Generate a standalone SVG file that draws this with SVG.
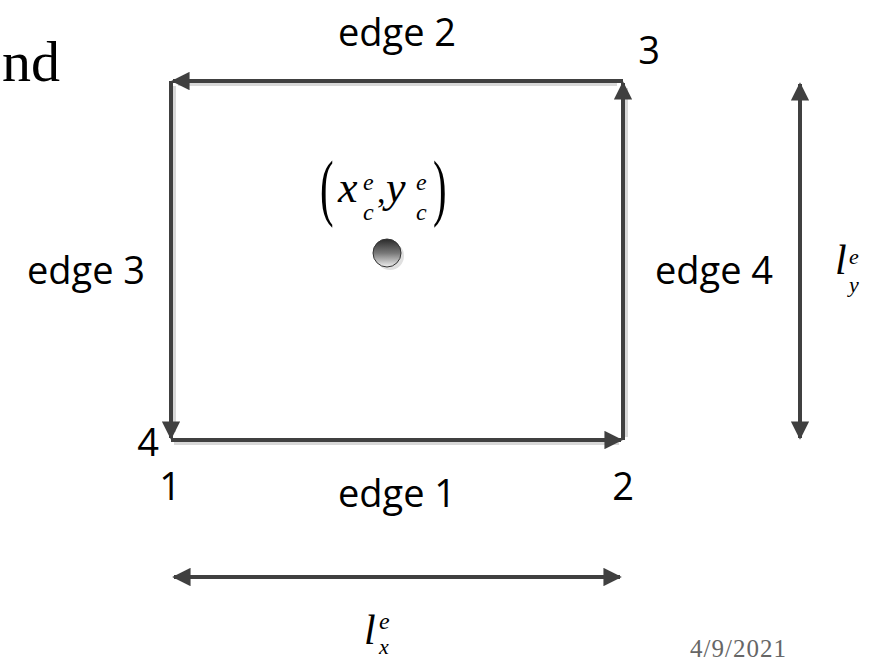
<svg xmlns="http://www.w3.org/2000/svg" width="879" height="661" viewBox="0 0 879 661">
<style>
.ln{stroke:#404040;stroke-width:4;fill:none}
.sh{stroke:#d8d8d8;stroke-width:4;fill:none}
.lbl{font-family:"Open Sans","Liberation Sans",sans-serif;font-size:38px;fill:#000}
.m{font-family:"Liberation Serif",serif;font-style:italic;fill:#000}
.p{font-family:"Liberation Serif",serif;font-size:74px;fill:#000}
</style>
<defs>
<marker id="ah" viewBox="0 0 10 10" refX="9" refY="5" markerWidth="4.6" markerHeight="4.6" orient="auto-start-reverse" markerUnits="strokeWidth">
<path d="M0,0 L10,5 L0,10 Z" fill="#404040"/>
</marker>
<linearGradient id="g" x1="0" y1="0" x2="0" y2="1">
<stop offset="0" stop-color="#2a2a2a"/>
<stop offset="0.5" stop-color="#777"/>
<stop offset="1" stop-color="#f0f0f0"/>
</linearGradient>
</defs>
<rect width="879" height="661" fill="#fff"/>
<text x="2" y="81" font-family="Liberation Serif,serif" font-size="58">nd</text>
<g id="connectors">
<path class="sh" d="M174,443 H619 M626,437 V88 M617,84 H178 M174,86 V432"/>
<line class="ln" x1="171" y1="440" x2="621" y2="440" marker-end="url(#ah)"/>
<line class="ln" x1="623" y1="440" x2="623" y2="83" marker-end="url(#ah)"/>
<line class="ln" x1="623" y1="81" x2="173" y2="81" marker-end="url(#ah)"/>
<line class="ln" x1="171" y1="81" x2="171" y2="438" marker-end="url(#ah)"/>
<line class="ln" x1="174" y1="577" x2="620" y2="577" marker-start="url(#ah)" marker-end="url(#ah)"/>
<line class="ln" x1="800" y1="84" x2="800" y2="438" marker-start="url(#ah)" marker-end="url(#ah)"/>
</g>
<g id="edge2"><text class="lbl" x="397" y="46" text-anchor="middle">edge 2</text></g>
<g id="edge1"><text class="lbl" x="397" y="507" text-anchor="middle">edge 1</text></g>
<g id="edge3"><text class="lbl" x="86" y="284" text-anchor="middle">edge 3</text></g>
<g id="edge4"><text class="lbl" x="714" y="284" text-anchor="middle">edge 4</text></g>
<g id="n3"><text class="lbl" x="649" y="64" text-anchor="middle">3</text></g>
<g id="n4"><text class="lbl" x="148" y="456" text-anchor="middle">4</text></g>
<g id="n1"><text class="lbl" x="170" y="500" text-anchor="middle">1</text></g>
<g id="n2"><text class="lbl" x="623" y="500" text-anchor="middle">2</text></g>
<g id="center">
<text class="p" transform="translate(320,212) scale(0.55,1)">(</text>
<text class="p" transform="translate(433,212) scale(0.55,1)">)</text>
<text class="m" font-size="44"><tspan x="338" y="202">x</tspan><tspan x="363" y="190" font-size="24">e</tspan><tspan x="363" y="220" font-size="24">c</tspan><tspan x="377" y="203" font-size="34" font-style="normal">,</tspan><tspan x="386" y="202">y</tspan><tspan x="416" y="190" font-size="24">e</tspan><tspan x="416" y="220" font-size="24">c</tspan></text>
<circle cx="390" cy="256" r="14" fill="#e0e0e0"/>
<circle cx="387" cy="253" r="14" fill="url(#g)" stroke="#333" stroke-width="1"/>
</g>
<g id="ly">
<text class="m" font-size="42"><tspan x="835" y="274">l</tspan><tspan x="849" y="264" font-size="22">e</tspan><tspan x="849" y="292" font-size="22">y</tspan></text>
</g>
<g id="lx">
<text class="m" font-size="42"><tspan x="364" y="644">l</tspan><tspan x="379" y="629" font-size="24">e</tspan><tspan x="379" y="654" font-size="22">x</tspan></text>
</g>
<text x="787" y="657" font-family="Liberation Serif,serif" font-size="25" fill="#666" text-anchor="end" letter-spacing="1">4/9/2021</text>
</svg>
